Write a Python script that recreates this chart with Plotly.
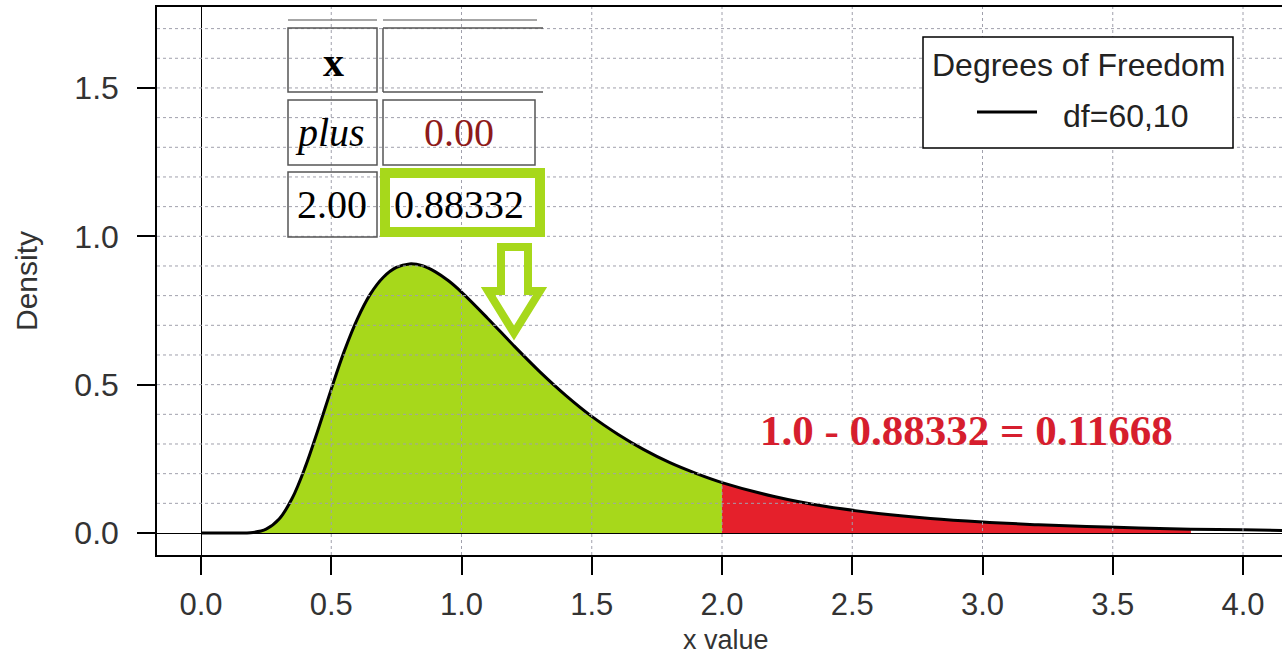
import plotly.graph_objects as go

# ---------------- data ----------------
x_vals = [0.0, 0.1, 0.2, 0.25, 0.3, 0.35, 0.4, 0.45, 0.5, 0.55, 0.6, 0.65, 0.7,
          0.75, 0.8, 0.85, 0.9, 0.95, 1.0, 1.1, 1.2, 1.3, 1.4, 1.5, 1.6, 1.7,
          1.8, 1.9, 2.0, 2.2, 2.4, 2.6, 2.8, 3.0, 3.2, 3.4, 3.6, 3.8, 4.0, 4.2]
density = [0.0, 0.0, 0.002, 0.013, 0.047, 0.117, 0.222, 0.350, 0.485, 0.613,
           0.721, 0.805, 0.862, 0.895, 0.907, 0.901, 0.880, 0.850, 0.812, 0.724,
           0.632, 0.544, 0.464, 0.393, 0.333, 0.281, 0.237, 0.201, 0.170, 0.123,
           0.089, 0.066, 0.049, 0.037, 0.028, 0.022, 0.017, 0.013, 0.011, 0.008]
x_cut = 2.0          # boundary between the two shaded areas
x_red_end = 3.8      # end of the red shaded tail
series_name = "df=60,10"
legend_title = "Degrees of Freedom"
x_title = "x value"
y_title = "Density"
x_ticks = [0.0, 0.5, 1.0, 1.5, 2.0, 2.5, 3.0, 3.5, 4.0]
y_ticks = [0.0, 0.5, 1.0, 1.5]
y_grid = [0.1, 0.2, 0.3, 0.4, 0.5, 0.6, 0.7, 0.8, 0.9, 1.0, 1.1, 1.2, 1.3,
          1.4, 1.5, 1.6, 1.7]
x_grid = [0.5, 1.0, 1.5, 2.0, 2.5, 3.0, 3.5, 4.0]
table_x_label = "x"
table_plus_label = "plus"
table_plus_value = "0.00"
table_x_value = "2.00"
table_prob = "0.88332"
result_text = "1.0 - 0.88332 = 0.11668"

GREEN = "#A7D81B"
RED = "#E5202B"
SANS = "Liberation Sans"
SERIF = "Liberation Serif"

# ---------------- geometry helpers (pixel -> paper) ----------------
W, H = 1282, 656
L, R, T, B = 157, 1282, 7, 555


def px(xp):
    return (xp - L) / (R - L)


def py(yp):
    return (B - yp) / (B - T)


green_x = [x for x in x_vals if x <= x_cut]
green_y = [d for x, d in zip(x_vals, density) if x <= x_cut]
red_x = [x for x in x_vals if x_cut <= x <= x_red_end]
red_y = [d for x, d in zip(x_vals, density) if x_cut <= x <= x_red_end]

fig = go.Figure()
fig.add_trace(go.Scatter(x=green_x, y=green_y, mode="lines", fill="tozeroy",
                         fillcolor=GREEN, line=dict(width=0, shape="spline"),
                         showlegend=False, hoverinfo="skip"))
fig.add_trace(go.Scatter(x=red_x, y=red_y, mode="lines", fill="tozeroy",
                         fillcolor=RED, line=dict(width=0, shape="spline"),
                         showlegend=False, hoverinfo="skip"))
fig.add_trace(go.Scatter(x=x_vals, y=density, mode="lines", name=series_name,
                         line=dict(color="black", width=3, shape="spline"),
                         showlegend=False))

shapes = []
grid_style = dict(color="#A0A0AC", width=1, dash="3px,3px")
for g in y_grid:
    shapes.append(dict(type="line", xref="paper", yref="y", x0=0, x1=1, y0=g, y1=g,
                       line=grid_style, layer="above"))
for g in x_grid:
    shapes.append(dict(type="line", xref="x", yref="paper", x0=g, x1=g, y0=0, y1=1,
                       line=grid_style, layer="above"))

# table
cell_line = dict(color="#555555", width=1.5)


def seg(x0, y0, x1, y1, line=cell_line):
    shapes.append(dict(type="line", xref="paper", yref="paper",
                       x0=px(x0), y0=py(y0), x1=px(x1), y1=py(y1), line=line, layer="above"))


def rect(x0, y0, x1, y1, line=cell_line, fill=None):
    d = dict(type="rect", xref="paper", yref="paper",
             x0=px(x0), y0=py(y0), x1=px(x1), y1=py(y1), line=line, layer="above")
    if fill:
        d["fillcolor"] = fill
    shapes.append(d)


seg(288, 20, 377, 20, dict(color="#888888", width=1.5))
seg(383, 20, 537, 20, dict(color="#888888", width=1.5))
rect(288, 28, 377, 92)
seg(383, 28, 543, 28)
seg(383, 92, 543, 92)
seg(383, 28, 383, 92)
rect(288, 100, 377, 165)
rect(383, 100, 535, 165)
rect(288, 172, 377, 237)
rect(385, 173, 540, 232, dict(color=GREEN, width=10))

# hollow arrow
pts = [(501, 247), (528, 247), (528, 291), (540, 291), (514, 333), (488, 291), (501, 291)]
path = "M " + " L ".join(f"{px(a):.5f},{py(b):.5f}" for a, b in pts) + " Z"
shapes.append(dict(type="path", xref="paper", yref="paper", path=path,
                   line=dict(color=GREEN, width=8), layer="above"))

# legend box (drawn)
rect(923, 37, 1233, 148, dict(color="black", width=1.5), fill="white")
seg(977, 112, 1037, 112, dict(color="black", width=3))

annotations = []


def label(text, xc, yc, size=40, color="black", family=SERIF, anchor="center", vanchor="middle"):
    annotations.append(dict(text=text, xref="paper", yref="paper", x=px(xc), y=py(yc),
                            xanchor=anchor, yanchor=vanchor, showarrow=False,
                            font=dict(family=family, size=size, color=color)))


label("<b>" + table_x_label + "</b>", 333, 62, size=42)
label("<i>" + table_plus_label + "</i>", 330, 132)
label(table_plus_value, 459, 132, color="#8E1A1A")
label(table_x_value, 332, 204)
label(table_prob, 459, 204)
label("<b>" + result_text + "</b>", 966, 430, size=43, color="#D61E2E")
label(legend_title, 1078, 65, size=32, color="#222222", family=SANS)
label(series_name, 1061, 116, size=32, color="#222222", family=SANS, anchor="left")
label(x_title, 726, 657, size=27, color="#333333", family=SANS, vanchor="bottom")

fig.update_layout(
    width=W, height=H,
    margin=dict(l=L, r=W - R, t=T, b=H - B, pad=0),
    paper_bgcolor="white", plot_bgcolor="white",
    shapes=shapes, annotations=annotations,
    showlegend=False,
    xaxis=dict(range=[(L - 201) / 260.5, (R - 201) / 260.5], tickvals=x_ticks,
               tickformat=".1f", showgrid=False, zeroline=True, zerolinecolor="black",
               zerolinewidth=1.2, showline=True, linecolor="black", linewidth=1.5,
               mirror=True, ticks="outside", ticklen=18, tickwidth=1.5, tickcolor="black",
               tickfont=dict(family=SANS, size=31, color="#333333"),
               ticklabelstandoff=3),
    yaxis=dict(range=[(533 - B) / 296.7, (533 - T) / 296.7], tickvals=y_ticks,
               tickformat=".1f", showgrid=False, zeroline=True, zerolinecolor="black",
               zerolinewidth=1.2, showline=True, linecolor="black", linewidth=1.5,
               mirror=False, ticks="outside", ticklen=18, tickwidth=1.5, tickcolor="black",
               tickfont=dict(family=SANS, size=32, color="#333333"),
               ticklabelstandoff=12,
               title=dict(text=y_title, font=dict(family=SANS, size=30, color="#333333"),
                          standoff=28)),
)

fig.write_html("out.html", config={"displayModeBar": False},
               post_script="document.body.style.margin='0';document.body.style.overflow='hidden';")
